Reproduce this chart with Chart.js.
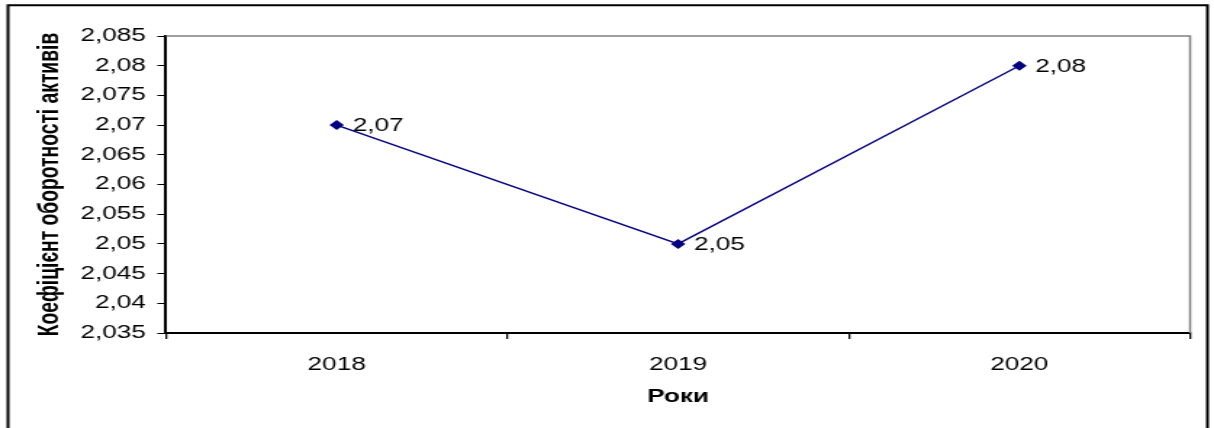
<!DOCTYPE html>
<html>
<head>
<meta charset="utf-8">
<title>Коефіцієнт оборотності активів</title>
<script src="https://cdn.jsdelivr.net/npm/chart.js@4"></script>
<style>
  html, body { margin: 0; padding: 0; background: #ffffff; }
</style>
</head>
<body>
<!-- The drawing surface is laid out narrower and widened by its inline style, giving the wide, stretched lettering of the chart -->
<canvas id="chart" width="837" height="428" style="display:block;width:1214px;height:428px;"></canvas>
<script>
// Years on the horizontal axis
const years = ['2018', '2019', '2020'];
// Asset turnover ratio per year
const turnover = [2.07, 2.05, 2.08];
// Vertical axis range and step
const yMin = 2.035;
const yMax = 2.085;
const yStep = 0.005;

const axisTitleY = 'Коефіцієнт оборотності активів';
const axisTitleX = 'Роки';

const FONT = "'Liberation Sans', Arial, sans-serif";
const NAVY = '#000080';

// Numbers use a decimal comma, trailing zeros dropped
function fmt(v) {
  return String(+(+v).toFixed(3)).replace('.', ',');
}

// Outer frame and the grey top/right edge of the plot area
const framePlugin = {
  id: 'frame',
  afterDraw(chart) {
    const ctx = chart.ctx;
    const a = chart.chartArea;
    ctx.save();
    ctx.strokeStyle = '#808080';
    ctx.lineWidth = 1.5;
    ctx.beginPath();
    ctx.moveTo(a.left, a.top);
    ctx.lineTo(a.right, a.top);
    ctx.lineTo(a.right, a.bottom);
    ctx.stroke();

    ctx.strokeStyle = '#000000';
    ctx.lineWidth = 2;
    ctx.beginPath();
    ctx.moveTo(5.5, chart.height + 2);
    ctx.lineTo(5.5, 5.3);
    ctx.lineTo(832.5, 5.3);
    ctx.lineTo(832.5, chart.height + 2);
    ctx.stroke();
    ctx.restore();
  }
};

// Value labels to the right of each marker
const valueLabels = {
  id: 'valueLabels',
  afterDatasetsDraw(chart) {
    const ctx = chart.ctx;
    const meta = chart.getDatasetMeta(0);
    const data = chart.data.datasets[0].data;
    ctx.save();
    ctx.font = '18px ' + FONT;
    ctx.fillStyle = '#000000';
    ctx.textAlign = 'left';
    ctx.textBaseline = 'middle';
    meta.data.forEach((pt, i) => {
      ctx.fillText(fmt(data[i]), pt.x + 11, pt.y + 1);
    });
    ctx.restore();
  }
};

new Chart(document.getElementById('chart'), {
  type: 'line',
  data: {
    labels: years,
    datasets: [{
      data: turnover,
      borderColor: NAVY,
      backgroundColor: NAVY,
      borderWidth: 1.4,
      pointStyle: 'rectRot',
      pointRadius: 5,
      pointBorderWidth: 0,
      pointBackgroundColor: NAVY,
      tension: 0,
      fill: false
    }]
  },
  options: {
    responsive: false,
    animation: false,
    devicePixelRatio: 1,
    layout: { padding: { left: 0, top: 36, right: 16.5, bottom: 0 } },
    plugins: {
      legend: { display: false },
      tooltip: { enabled: false }
    },
    scales: {
      x: {
        type: 'category',
        offset: true,
        afterFit(scale) { scale.height = 95; },
        grid: {
          offset: true,
          drawOnChartArea: false,
          drawTicks: true,
          tickLength: 6,
          color: '#000000',
          lineWidth: 1.3
        },
        border: { display: true, color: '#000000', width: 2 },
        ticks: {
          color: '#000000',
          font: { family: FONT, size: 18 },
          padding: 15,
          maxRotation: 0
        },
        title: {
          display: true,
          text: axisTitleX,
          color: '#000000',
          font: { family: FONT, size: 18, weight: 'bold' },
          padding: { top: 0, bottom: 20 }
        }
      },
      y: {
        min: yMin,
        max: yMax,
        afterFit(scale) { scale.width = 114.45; },
        grid: {
          drawOnChartArea: false,
          drawTicks: true,
          tickLength: 6,
          color: '#000000',
          lineWidth: 1
        },
        border: { display: true, color: '#000000', width: 2 },
        ticks: {
          stepSize: yStep,
          color: '#000000',
          font: { family: FONT, size: 18 },
          padding: 8,
          callback: (v) => fmt(v)
        },
        title: {
          display: true,
          text: axisTitleY,
          color: '#000000',
          font: { family: FONT, size: 19.3, weight: 'bold' },
          padding: { top: 23.5, bottom: 0 }
        }
      }
    }
  },
  plugins: [framePlugin, valueLabels]
});
</script>
</body>
</html>
